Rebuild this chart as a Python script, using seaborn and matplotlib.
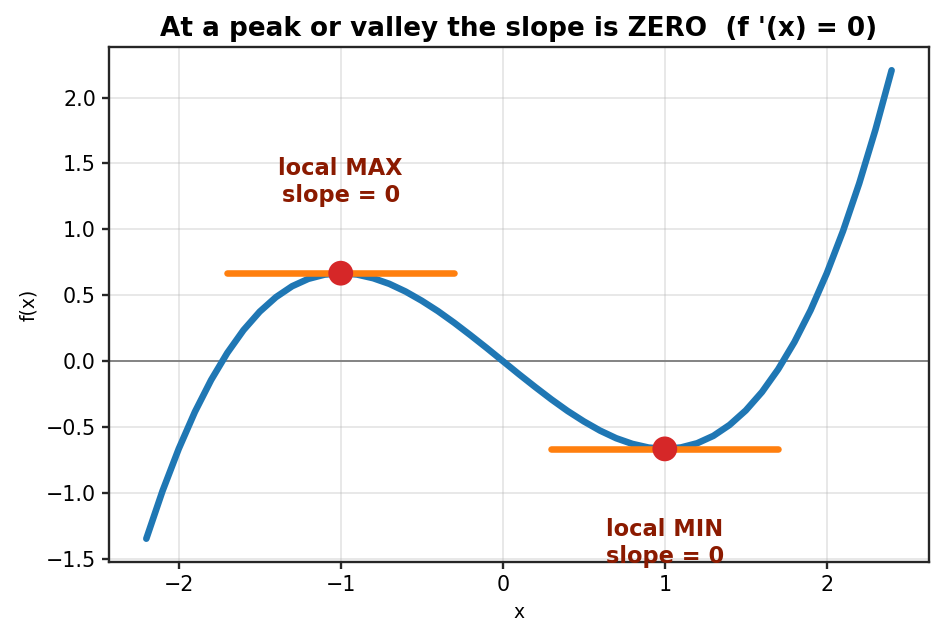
import numpy as np
import pandas as pd
import matplotlib
matplotlib.use("Agg")
import matplotlib.pyplot as plt
import seaborn as sns

# curve samples
x_vals = [-2.2, -2.1, -2.0, -1.9, -1.8, -1.7, -1.6, -1.5, -1.4, -1.3, -1.2, -1.1,
          -1.0, -0.9, -0.8, -0.7, -0.6, -0.5, -0.4, -0.3, -0.2, -0.1, 0.0,
          0.1, 0.2, 0.3, 0.4, 0.5, 0.6, 0.7, 0.8, 0.9, 1.0, 1.1, 1.2, 1.3,
          1.4, 1.5, 1.6, 1.7, 1.8, 1.9, 2.0, 2.1, 2.2, 2.3, 2.4]
f_vals = [-1.349, -0.987, -0.667, -0.386, -0.144, 0.062, 0.235, 0.375, 0.485, 0.568, 0.624, 0.656,
          0.667, 0.657, 0.629, 0.586, 0.528, 0.458, 0.379, 0.291, 0.197, 0.100, 0.000,
          -0.100, -0.197, -0.291, -0.379, -0.458, -0.528, -0.586, -0.629, -0.657, -0.667, -0.656, -0.624, -0.568,
          -0.485, -0.375, -0.235, -0.062, 0.144, 0.386, 0.667, 0.987, 1.349, 1.756, 2.208]

# critical points
crit_x = [-1.0, 1.0]
crit_y = [0.667, -0.667]
tangent_half = 0.7

labels = ["local MAX\nslope = 0", "local MIN\nslope = 0"]
label_y = [1.36, -1.38]

df = pd.DataFrame({"x": x_vals, "f": f_vals})

sns.set_style("ticks")
plt.rcParams["font.family"] = ["DejaVu Sans"]
plt.rcParams["axes.linewidth"] = 1.25
plt.rcParams["text.color"] = "black"
plt.rcParams["axes.labelcolor"] = "black"
plt.rcParams["xtick.labelcolor"] = "black"
plt.rcParams["ytick.labelcolor"] = "black"

fig, ax = plt.subplots(figsize=(944 / 135, 641 / 135), dpi=135)
fig.subplots_adjust(left=0.1155, right=0.984, bottom=0.123, top=0.927)

sns.lineplot(data=df, x="x", y="f", color="#1f77b4", lw=3.5, ax=ax, zorder=2)
ax.axhline(0, color="gray", lw=1, zorder=1)

for cx, cy in zip(crit_x, crit_y):
    ax.plot([cx - tangent_half, cx + tangent_half], [cy, cy], color="#ff7f0e", lw=3.5, zorder=3)

sns.scatterplot(x=crit_x, y=crit_y, color="#d62728", s=175, edgecolor="none", ax=ax, zorder=4)

for cx, ly, txt in zip(crit_x, label_y, labels):
    ax.text(cx, ly, txt, ha="center", va="center", fontsize=12, fontweight="bold",
            color="#8b1a00", clip_on=False)

ax.set_xlim(-2.43, 2.63)
ax.set_ylim(-1.527, 2.386)
ax.grid(alpha=0.3, color="#b0b0b0", lw=1)
ax.tick_params(labelsize=11, length=3.5, width=1.25)
ax.set_xlabel("x", fontsize=10)
ax.set_ylabel("f(x)", fontsize=10)
ax.set_title("At a peak or valley the slope is ZERO  (f '(x) = 0)", fontsize=14, fontweight="bold")

plt.savefig("out.png", dpi=135)
